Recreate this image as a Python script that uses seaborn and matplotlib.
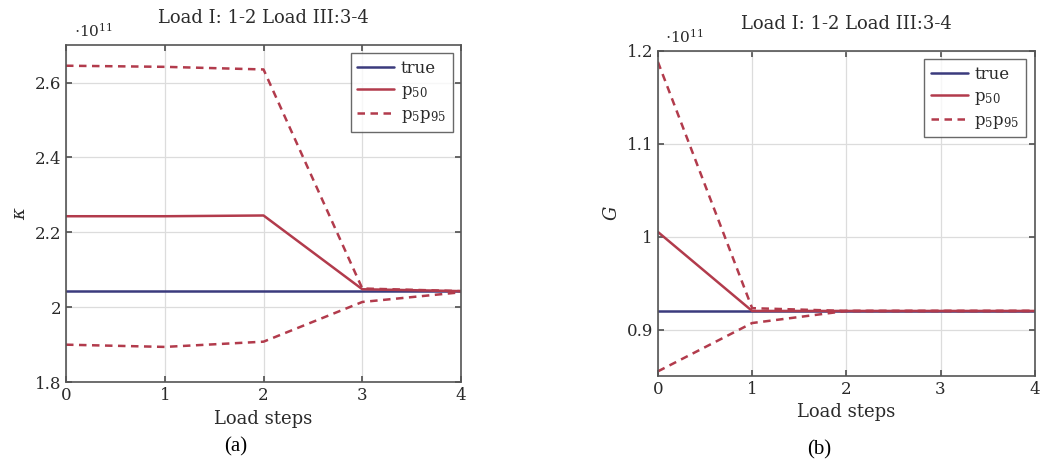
import numpy as np
import pandas as pd
import matplotlib
matplotlib.use("Agg")
import matplotlib.pyplot as plt
import seaborn as sns
from matplotlib.ticker import FuncFormatter, FixedLocator

# ---- data (values in units of 1e11) ----
steps = [0, 1, 2, 3, 4]

kappa_true = [2.043, 2.043, 2.043, 2.043, 2.043]
kappa_p50 = [2.243, 2.243, 2.245, 2.048, 2.043]
kappa_p95 = [2.645, 2.642, 2.635, 2.050, 2.043]
kappa_p5 = [1.900, 1.894, 1.908, 2.014, 2.040]

G_true = [0.920, 0.920, 0.920, 0.920, 0.920]
G_p50 = [1.005, 0.920, 0.920, 0.920, 0.920]
G_p95 = [1.188, 0.923, 0.920, 0.920, 0.920]
G_p5 = [0.855, 0.907, 0.920, 0.920, 0.920]

kappa_ticks = [1.8, 2.0, 2.2, 2.4, 2.6]
G_ticks = [0.9, 1.0, 1.1, 1.2]

title_text = "Load I: 1-2 Load III:3-4"
xlabel_text = "Load steps"
SCALE = 1e11

sns.set_theme(style="white")
plt.rcParams['font.family'] = ['DejaVu Serif', 'DejaVu Sans']
plt.rcParams['mathtext.fontset'] = 'dejavuserif'

fig = plt.figure(figsize=(10.41, 4.70), dpi=100)
ax1 = fig.add_axes([0.0634, 0.187, 0.3795, 0.717])
ax2 = fig.add_axes([0.632, 0.200, 0.362, 0.692])

c_true = '#3b3b7d'
c_red = '#b23b4c'
c_text = '#2a2a2a'


def draw(ax, true, p50, p95, p5, ylim, yticks, ylabel):
    sns.lineplot(x=steps, y=np.array(true) * SCALE, ax=ax, color=c_true, lw=1.8, label='true')
    sns.lineplot(x=steps, y=np.array(p50) * SCALE, ax=ax, color=c_red, lw=1.8, label='p$_{50}$')
    sns.lineplot(x=steps, y=np.array(p95) * SCALE, ax=ax, color=c_red, lw=1.8,
                 linestyle=(0, (3, 2.2)), label='p$_5$p$_{95}$')
    sns.lineplot(x=steps, y=np.array(p5) * SCALE, ax=ax, color=c_red, lw=1.8,
                 linestyle=(0, (3, 2.2)))
    ax.set_xlim(0, 4)
    ax.set_ylim(ylim[0] * SCALE, ylim[1] * SCALE)
    ax.xaxis.set_major_locator(FixedLocator(steps))
    ax.yaxis.set_major_locator(FixedLocator([t * SCALE for t in yticks]))
    ax.yaxis.set_major_formatter(FuncFormatter(lambda v, p: f"{v / SCALE:g}"))
    ax.grid(True, color='#dcdcdc', lw=0.9)
    for s in ax.spines.values():
        s.set_color('#555555')
        s.set_linewidth(1.2)
    ax.tick_params(direction='in', length=4, color='#555555', labelsize=12,
                   labelcolor=c_text, top=True, right=True, bottom=True, left=True)
    ax.set_xlabel(xlabel_text, fontsize=13, color=c_text)
    ax.set_ylabel(ylabel, fontsize=13, color=c_text)
    ax.set_title(title_text, fontsize=13, color=c_text, pad=16)
    ax.text(0.02, 1.015, r"$\cdot 10^{11}$", transform=ax.transAxes, fontsize=11,
            color=c_text, ha='left', va='bottom')
    leg = ax.legend(loc='upper right', fontsize=12, frameon=True, fancybox=False,
                    handlelength=2.2, borderpad=0.4, labelspacing=0.3, handletextpad=0.4)
    leg.get_frame().set_edgecolor('#444444')
    leg.get_frame().set_linewidth(1.0)
    for t in leg.get_texts():
        t.set_color(c_text)


draw(ax1, kappa_true, kappa_p50, kappa_p95, kappa_p5, (1.8, 2.7), kappa_ticks, r"$\kappa$")
draw(ax2, G_true, G_p50, G_p95, G_p5, (0.85, 1.2), G_ticks, r"$G$")

fig.text(236 / 1041, 1 - 447 / 470, "(a)", fontsize=15, family='Liberation Serif',
         ha='center', va='center', color='black')
fig.text(819 / 1041, 1 - 450 / 470, "(b)", fontsize=15, family='Liberation Serif',
         ha='center', va='center', color='black')

fig.savefig("out.png", dpi=100)
